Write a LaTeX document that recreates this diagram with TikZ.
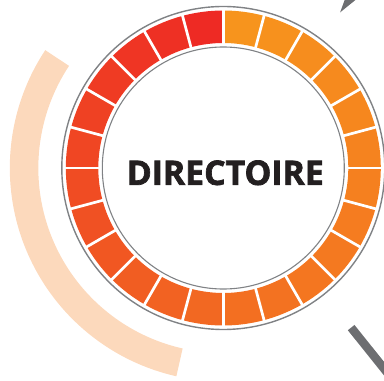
\documentclass[tikz,border=0pt]{standalone}
\usepackage{fontspec}
\setmainfont{Open Sans}
\newfontfamily\titlefont{Open Sans}[BoldFeatures={FakeBold=2}]
\usepackage{graphicx}
\usetikzlibrary{positioning}
\definecolor{orangetop}{HTML}{F7941D}
\definecolor{orangelow}{HTML}{F36F21}
\definecolor{redlow}{HTML}{F26822}
\definecolor{redtop}{HTML}{EE2A24}
\definecolor{ringgray}{HTML}{808285}
\definecolor{pointgray}{HTML}{6D6E71}
\definecolor{peach}{HTML}{FCD9BC}
\definecolor{titleblack}{HTML}{231F20}
\tikzstyle{ringline} = [draw=ringgray, line width=1.4pt]
\tikzstyle{gap} = [draw=white, line width=2.7pt]
\tikzstyle{pointer} = [fill=pointgray]
\tikzstyle{titletext} = [inner sep=0pt, text=titleblack]

\begin{document}
\begin{tikzpicture}[x=1pt, y=1pt]
   \useasboundingbox (0,0) rectangle (384,381);
   \clip (0,0) rectangle (384,381);
   \coordinate (c) at (223.3,213);

   % faded arc on the left
   \begin{scope}[shift={(c)}]
   \fill[peach] (146.5:213.5) arc[start angle=146.5, end angle=257.3, radius=213.5]
      -- (257.3:185) arc[start angle=257.3, end angle=146.5, radius=185] -- cycle;

   % ring of 24 segments
   \foreach \i in {0,...,23} {
      \pgfmathsetmacro{\a}{90-15*\i}
      \pgfmathsetmacro{\b}{75-15*\i}
      \ifnum\i<12
         \pgfmathsetmacro{\p}{100-\i*100/11}
         \colorlet{segcol}{orangetop!\p!orangelow}
      \else
         \pgfmathsetmacro{\p}{(\i-12)*100/11}
         \colorlet{segcol}{redtop!\p!redlow}
      \fi
      \fill[segcol] (\a:157.5) arc[start angle=\a, end angle=\b, radius=157.5]
         -- (\b:125) arc[start angle=\b, end angle=\a, radius=125] -- cycle;
   }
   \foreach \i in {0,...,23}
      \draw[gap] (15*\i:122) -- (15*\i:160);

   \draw[ringline] (0,0) circle[radius=161.5];
   \draw[ringline, line width=1.1pt] (0,0) circle[radius=121];

   % pointers
   \fill[pointer] (53.1:194.6) -- ++(70:50) -- ++(-20:30) -- cycle;
   \draw[pointgray, line width=8.5pt] (-51.3:204.5) -- (-51.3:300);
   \end{scope}

   \node (title) [titletext] at ([shift={(2,-4.8)}]c)
      {\resizebox{197pt}{24.5pt}{\titlefont\bfseries DIRECTOIRE}};
\end{tikzpicture}
\end{document}
